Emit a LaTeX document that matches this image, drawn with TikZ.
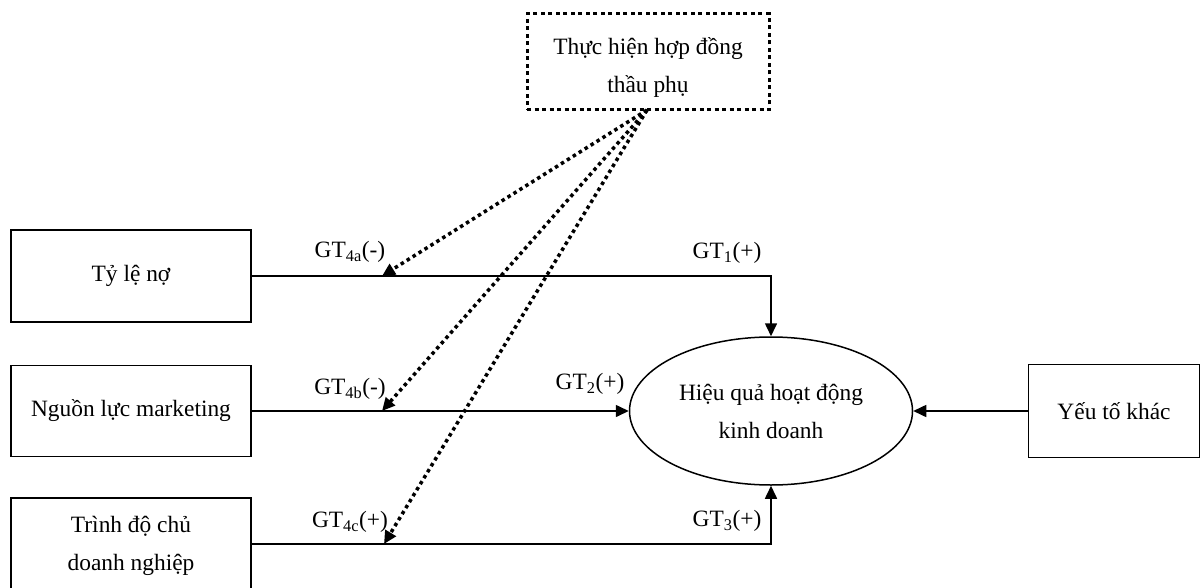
\documentclass[tikz,border=0pt]{standalone}
\usepackage{fontspec}
\setmainfont{Liberation Serif}
\usetikzlibrary{arrows.meta,shapes.geometric}
\begin{document}
\begin{tikzpicture}[x=1pt,y=-1pt,
  every node/.style={font=\fontsize{23.4}{38}\selectfont, inner sep=0pt},
  box/.style={draw, line width=1.5pt, align=center},
  dotbox/.style={draw, line width=3pt, dash pattern=on 4pt off 3.5pt, align=center, text height=66pt},
  ell/.style={draw, ellipse, line width=1.5pt, align=center},
  conn/.style={line width=1.6pt, -{Triangle[length=13pt,width=12pt]}},
  mod/.style={line width=3.5pt, dash pattern=on 3.5pt off 3.5pt, -{Triangle[length=13pt,width=12pt]}},
  lab/.style={font=\fontsize{23.4}{28}\selectfont}]
\useasboundingbox (0,0) rectangle (1201,588);
\node[dotbox, minimum width=242pt, minimum height=96pt] (top) at (648,62) {Thực hiện hợp đồng\\thầu phụ};
\node[box, minimum width=240pt, minimum height=92pt] (b1) at (131,276) {Tỷ lệ nợ};
\node[box, minimum width=240pt, minimum height=91pt] (b2) at (131,411) {Nguồn lực marketing};
\node[box, minimum width=240pt, minimum height=96pt] (b3) at (131,546) {Trình độ chủ\\doanh nghiệp};
\node[ell, minimum width=283pt, minimum height=148pt] (e) at (771,411) {Hiệu quả hoạt động\\kinh doanh};
\node[box, minimum width=171pt, minimum height=93pt] (b4) at (1114,411) {Yếu tố khác};
\coordinate (j3) at (251,544);
\draw[conn] (b1.east) -| (e.north);
\draw[conn] (b2.east) -- (e.west);
\draw[conn] (j3) -| (e.south);
\draw[conn] (b4.west) -- (e.east);
\coordinate (src) at (647,110);
\coordinate (m1) at (382,276);
\coordinate (m2) at (382,411);
\coordinate (m3) at (384,544);
\draw[mod] (src) -- (m1);
\draw[mod] (src) -- (m2);
\draw[mod] (src) -- (m3);
\node[lab] (l4a) at (350,252) {GT\textsubscript{4a}(-)};
\node[lab] (l1) at (727,253) {GT\textsubscript{1}(+)};
\node[lab] (l4b) at (350,389) {GT\textsubscript{4b}(-)};
\node[lab] (l2) at (590,384) {GT\textsubscript{2}(+)};
\node[lab] (l4c) at (350,522) {GT\textsubscript{4c}(+)};
\node[lab] (l3) at (727,521) {GT\textsubscript{3}(+)};
\end{tikzpicture}
\end{document}
